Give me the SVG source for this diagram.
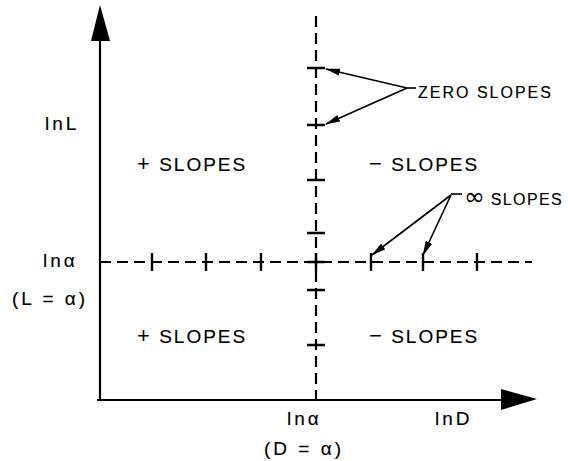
<svg xmlns="http://www.w3.org/2000/svg" width="568" height="461" viewBox="0 0 568 461">
<style>
text{font-family:"Liberation Sans",Arial,sans-serif;fill:#000;stroke:#000;stroke-width:0.15;}
.lbl{font-size:19px;letter-spacing:2px;}
.sign{font-size:22px;stroke-width:0;}
.ax{font-size:19px;letter-spacing:3px;}
.note{font-size:16px;letter-spacing:2px;}
.note2{font-size:16px;letter-spacing:1.4px;}
.inf{font-family:"DejaVu Sans",sans-serif;font-size:25px;letter-spacing:0px;stroke-width:0;}
.axis{stroke:#000;stroke-width:2.2;fill:none;}
.dash{stroke:#000;stroke-width:2.2;fill:none;stroke-dasharray:11 6;}
.tick{stroke:#000;stroke-width:2.4;fill:none;}
.lead{stroke:#000;stroke-width:1.6;fill:none;}
.head{fill:#000;}
</style>
<defs>
<marker id="arr" markerWidth="15" markerHeight="8" refX="14" refY="4" orient="auto" markerUnits="userSpaceOnUse">
<path d="M0,0.5 L15,4 L0,7.5 Z" fill="#000"/>
</marker>
</defs>
<g id="axes">
<line class="axis" x1="100" y1="38" x2="100" y2="400"/>
<polygon class="head" points="100,5 91,41 110,41"/>
<line class="axis" x1="97" y1="400" x2="503" y2="400"/>
<polygon class="head" points="537,399 501,389 501,410"/>
</g>
<g id="guides">
<line class="dash" x1="316" y1="16" x2="316" y2="400"/>
<line class="dash" x1="100" y1="262" x2="532" y2="262"/>
</g>
<g id="ticks">
<path class="tick" d="M307,68H325M307,125H325M307,180H325M307,233H325M307,262H325M307,290H325M307,345H325"/>
<path class="tick" d="M152,253V271M206,253V271M261,253V271M316,253V271M371,253V271M423,253V271M477,253V271"/>
</g>
<g id="connectors">
<line class="lead" x1="407" y1="88" x2="326" y2="69" marker-end="url(#arr)"/>
<line class="lead" x1="407" y1="88" x2="326" y2="124" marker-end="url(#arr)"/>
<line class="lead" x1="407" y1="88" x2="416" y2="88"/>
<line class="lead" x1="451" y1="195" x2="372" y2="255" marker-end="url(#arr)"/>
<line class="lead" x1="451" y1="195" x2="423" y2="255" marker-end="url(#arr)"/>
<line class="lead" x1="451" y1="194" x2="462" y2="194"/>
</g>
<g id="labels">
<text class="ax" x="45" y="130">lnL</text>
<text class="ax" x="43" y="267">lnα</text>
<text class="ax" x="12" y="305">(L = α)</text>
<text class="ax" x="287" y="425">lnα</text>
<text class="ax" x="264" y="455">(D = α)</text>
<text class="ax" x="435" y="425">lnD</text>
</g>
<g id="regions">
<text class="lbl" x="137" y="171"><tspan class="sign">+</tspan> SLOPES</text>
<text class="lbl" x="369" y="171"><tspan class="sign">−</tspan> SLOPES</text>
<text class="lbl" x="137" y="343"><tspan class="sign">+</tspan> SLOPES</text>
<text class="lbl" x="369" y="343"><tspan class="sign">−</tspan> SLOPES</text>
</g>
<g id="notes">
<text class="note" x="418" y="98">ZERO SLOPES</text>
<text class="note2" x="464" y="205"><tspan class="inf">∞</tspan> SLOPES</text>
</g>
</svg>
